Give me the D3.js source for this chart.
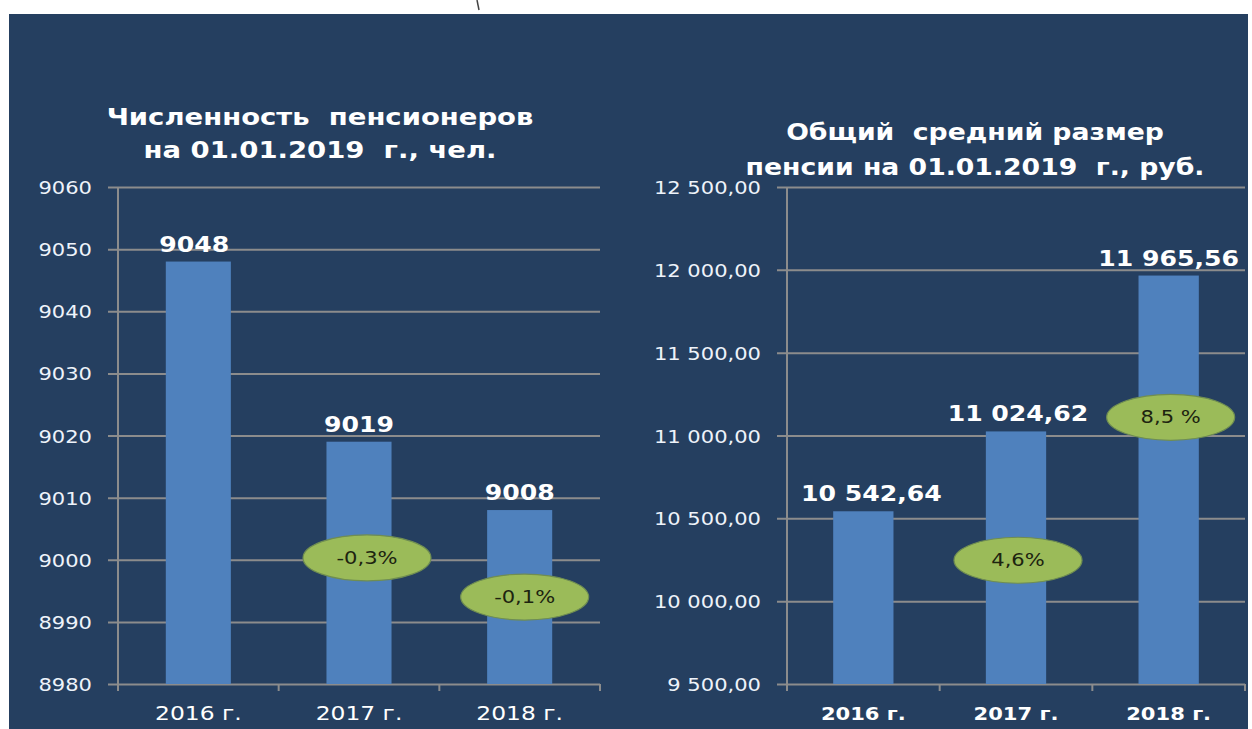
<!DOCTYPE html>
<html>
<head>
<meta charset="utf-8">
<script src="https://cdn.jsdelivr.net/npm/d3@7"></script>
<style>
  body { margin: 0; background: #ffffff; }
  svg { display: block; }
  text { font-family: "DejaVu Sans", Verdana, sans-serif; white-space: pre; }
</style>
</head>
<body>
<div id="chart"></div>
<script>
// chart data
const years = ["2016 г.", "2017 г.", "2018 г."];

const pensioners = [9048, 9019, 9008];
const pensionerTicks = [8980, 8990, 9000, 9010, 9020, 9030, 9040, 9050, 9060];
const pensionerGrowth = ["", "-0,3%", "-0,1%"];

const avgPension = [10542.64, 11024.62, 11965.56];
const pensionTicks = [9500, 10000, 10500, 11000, 11500, 12000, 12500];
const pensionGrowth = ["", "4,6%", "8,5 %"];

// the source picture is stretched sideways, so is every text
const SX = 1.17;

let svgWidth = 1252;
let svgHeight = 729;

let svg = d3.select("#chart")
  .append("svg")
  .attr("width", svgWidth)
  .attr("height", svgHeight);

// dark panel behind both charts
svg.append("rect")
  .attr("x", 9)
  .attr("y", 14)
  .attr("width", 1239)
  .attr("height", svgHeight - 14)
  .attr("fill", "#253f60");

// little stray mark above the panel
svg.append("line")
  .attr("x1", 477).attr("y1", 0)
  .attr("x2", 479).attr("y2", 10)
  .attr("stroke", "#444")
  .attr("stroke-width", 1.5);

// russian number style: space for thousands, comma for decimals
const ru = d3.formatLocale({ decimal: ",", thousands: " ", grouping: [3], currency: ["", " руб."] });

function stretched(sel, x, y) {
  sel.attr("x", 0).attr("y", 0).attr("dy", null)
    .attr("transform", `translate(${x},${y}) scale(${SX},1)`);
}

function drawChart(cfg) {
  let g = svg.append("g");
  let width = cfg.x1 - cfg.x0;

  let x = d3.scaleBand()
    .domain(years)
    .range([cfg.x0, cfg.x1]);

  let y = d3.scaleLinear()
    .domain(cfg.domain)
    .range([cfg.yBottom, cfg.yTop]);

  // y axis with the grid lines
  let yAxis = g.append("g")
    .attr("transform", `translate(${cfg.x0},0)`)
    .call(d3.axisLeft(y)
      .tickValues(cfg.ticks)
      .tickSizeInner(-width)
      .tickSizeOuter(0)
      .tickFormat(cfg.tickFormat));

  yAxis.select(".domain").remove();
  yAxis.selectAll(".tick line")
    .attr("x1", -10)
    .attr("stroke", "#8c8c8c")
    .attr("stroke-width", 2);
  yAxis.selectAll(".tick text")
    .attr("fill", "#eef3fa")
    .attr("font-size", 18)
    .attr("text-anchor", "end")
    .each(function () { stretched(d3.select(this), -26, 6.5); });

  // vertical axis line
  g.append("line")
    .attr("x1", cfg.x0).attr("x2", cfg.x0)
    .attr("y1", cfg.yTop).attr("y2", cfg.yBottom + 7)
    .attr("stroke", "#8c8c8c")
    .attr("stroke-width", 2);

  // category separators under the x axis
  let edges = years.map(d => x(d)).concat([x.range()[1]]);
  g.selectAll(".sep")
    .data(edges.slice(1))
    .enter().append("line")
    .attr("x1", d => d).attr("x2", d => d)
    .attr("y1", cfg.yBottom).attr("y2", cfg.yBottom + 7)
    .attr("stroke", "#8c8c8c")
    .attr("stroke-width", 2);

  // x labels
  let xAxis = g.append("g")
    .attr("transform", `translate(0,${cfg.yBottom})`)
    .call(d3.axisBottom(x).tickSize(0));
  xAxis.select(".domain").remove();
  xAxis.selectAll(".tick text")
    .attr("fill", "#ffffff")
    .attr("font-size", cfg.xLabelSize)
    .attr("font-weight", cfg.xLabelWeight)
    .attr("text-anchor", "middle")
    .each(function () { stretched(d3.select(this), 0, 36); });

  // bars
  let barW = x.bandwidth() * cfg.barRatio;
  g.selectAll(".bar")
    .data(cfg.values)
    .enter().append("rect")
    .attr("class", "bar")
    .attr("x", (d, i) => x(years[i]) + (x.bandwidth() - barW) / 2)
    .attr("y", d => y(d))
    .attr("width", barW)
    .attr("height", d => cfg.yBottom - y(d))
    .attr("fill", "#4f81bd");

  // value labels
  g.selectAll(".val")
    .data(cfg.values)
    .enter().append("text")
    .attr("class", "val")
    .attr("fill", "#ffffff")
    .attr("font-size", cfg.valueSize)
    .attr("font-weight", "bold")
    .attr("text-anchor", "middle")
    .text(d => cfg.valueFormat(d))
    .each(function (d, i) {
      stretched(d3.select(this), x(years[i]) + x.bandwidth() / 2 + cfg.valueDx[i], y(d) - 10);
    });

  // green growth badges
  let badges = cfg.badges.filter(b => cfg.growth[b.i] !== "");
  let bg = g.selectAll(".badge")
    .data(badges)
    .enter().append("g")
    .attr("transform", b => `translate(${x(years[b.i]) + x.bandwidth() / 2 + b.dx},${y(b.at)})`);
  bg.append("ellipse")
    .attr("rx", 64)
    .attr("ry", 23)
    .attr("fill", "#9bbb59")
    .attr("stroke", "#6f8d52")
    .attr("stroke-width", 1.2);
  bg.append("text")
    .attr("fill", "#1d2410")
    .attr("font-size", 18)
    .attr("text-anchor", "middle")
    .text(b => cfg.growth[b.i])
    .each(function () { stretched(d3.select(this), 0, 6); });

  // title, two lines
  g.selectAll(".title")
    .data(cfg.title)
    .enter().append("text")
    .attr("fill", "#ffffff")
    .attr("font-size", cfg.titleSize)
    .attr("font-weight", "bold")
    .attr("text-anchor", "middle")
    .text(d => d)
    .each(function (d, i) {
      stretched(d3.select(this), cfg.titleX, cfg.titleY[i]);
    });
}

drawChart({
  x0: 118, x1: 600, yTop: 187, yBottom: 684,
  domain: [8980, 9060],
  ticks: pensionerTicks,
  tickFormat: d3.format("d"),
  values: pensioners,
  valueFormat: d3.format("d"),
  valueSize: 21.5,
  valueDx: [-4, 0, 0],
  growth: pensionerGrowth,
  badges: [{ i: 1, at: 9000.3, dx: 8 }, { i: 2, at: 8994, dx: 5 }],
  barRatio: 0.405,
  xLabelSize: 20, xLabelWeight: "normal",
  title: ["Численность  пенсионеров", "на 01.01.2019  г., чел."],
  titleX: 320, titleY: [125, 158], titleSize: 23.5
});

drawChart({
  x0: 787, x1: 1245, yTop: 187, yBottom: 684,
  domain: [9500, 12500],
  ticks: pensionTicks,
  tickFormat: ru.format(",.2f"),
  values: avgPension,
  valueFormat: ru.format(",.2f"),
  valueSize: 21.5,
  valueDx: [8, 2, 0],
  growth: pensionGrowth,
  badges: [{ i: 1, at: 10247, dx: 2 }, { i: 2, at: 11110, dx: 2 }],
  barRatio: 0.395,
  xLabelSize: 18, xLabelWeight: "bold",
  title: ["Общий  средний размер", "пенсии на 01.01.2019  г., руб."],
  titleX: 975, titleY: [140, 175], titleSize: 22.8
});
</script>
</body>
</html>
